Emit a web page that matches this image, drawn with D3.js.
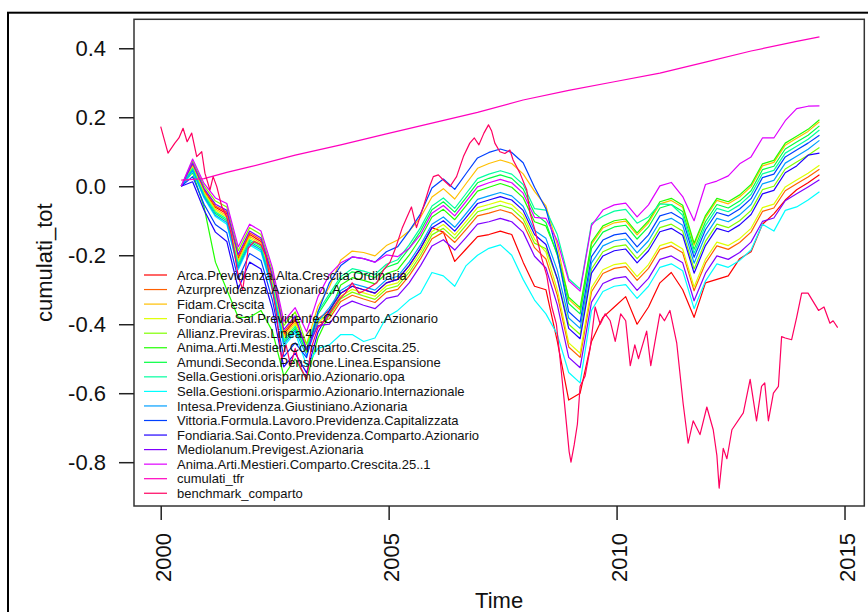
<!DOCTYPE html>
<html>
<head>
<meta charset="utf-8">
<script src="https://cdn.jsdelivr.net/npm/d3@7"></script>
<style>
  body { margin: 0; background: #fff; }
  text { font-family: "Liberation Sans", Arial, sans-serif; fill: #111; }
</style>
</head>
<body>
<div id="chart"></div>
<script>
// ------------ DATA ------------
// funds are quarterly, starting mid 2000
var fundStart = 2000.45;
var fundStep = 0.25;

var fundNames = [
  "Arca.Previdenza.Alta.Crescita.Ordinaria",
  "Azurprevidenza.Azionario..A",
  "Fidam.Crescita",
  "Fondiaria.Sai.Previdente.Comparto.Azionario",
  "Allianz.Previras.Linea.4",
  "Anima.Arti.Mestieri.Comparto.Crescita.25.",
  "Amundi.Seconda.Pensione.Linea.Espansione",
  "Sella.Gestioni.orisparmio.Azionario.opa",
  "Sella.Gestioni.orisparmio.Azionario.Internazionale",
  "Intesa.Previdenza.Giustiniano.Azionaria",
  "Vittoria.Formula.Lavoro.Previdenza.Capitalizzata",
  "Fondiaria.Sai.Conto.Previdenza.Comparto.Azionario",
  "Mediolanum.Previgest.Azionaria",
  "Anima.Arti.Mestieri.Comparto.Crescita.25..1"
];

var arca = [0, 0.061, -0.013, -0.061, -0.080, -0.209, -0.140, -0.160, -0.269, -0.428,
  -0.388, -0.471, -0.385, -0.360, -0.310, -0.290, -0.300, -0.310, -0.280, -0.270,
  -0.230, -0.180, -0.120, -0.133, -0.218, -0.182, -0.146, -0.140, -0.130, -0.140,
  -0.220, -0.290, -0.300, -0.450, -0.620, -0.600, -0.450, -0.380, -0.350, -0.320,
  -0.400, -0.350, -0.280, -0.250, -0.300, -0.380, -0.280, -0.270, -0.260, -0.210,
  -0.190, -0.110, -0.080, -0.040, -0.010, 0.010, 0.033];
var azur = [0, 0.064, -0.010, -0.057, -0.075, -0.204, -0.135, -0.155, -0.264, -0.422,
  -0.382, -0.474, -0.397, -0.384, -0.334, -0.316, -0.327, -0.337, -0.307, -0.299,
  -0.260, -0.210, -0.152, -0.133, -0.163, -0.125, -0.086, -0.078, -0.068, -0.078,
  -0.108, -0.178, -0.211, -0.316, -0.466, -0.496, -0.306, -0.253, -0.238, -0.233,
  -0.273, -0.238, -0.183, -0.173, -0.193, -0.303, -0.223, -0.173, -0.183, -0.163,
  -0.133, -0.073, -0.063, -0.013, 0.007, 0.027, 0.049];
var fidam = [0, 0.058, -0.017, -0.066, -0.085, -0.215, -0.145, -0.165, -0.275, -0.434,
  -0.394, -0.457, -0.348, -0.292, -0.214, -0.188, -0.192, -0.202, -0.172, -0.156,
  -0.130, -0.090, -0.031, -0.007, -0.037, 0.008, 0.052, 0.066, 0.076, 0.066,
  0.036, -0.015, -0.057, -0.170, -0.328, -0.358, -0.168, -0.121, -0.106, -0.101,
  -0.141, -0.106, -0.051, -0.041, -0.061, -0.171, -0.091, -0.041, -0.051, -0.031,
  -0.001, 0.059, 0.069, 0.119, 0.139, 0.159, 0.187];
var fondSaiPrev = [0, 0.055, -0.020, -0.070, -0.090, -0.220, -0.150, -0.170, -0.280, -0.440,
  -0.400, -0.482, -0.395, -0.368, -0.318, -0.299, -0.309, -0.319, -0.289, -0.280,
  -0.240, -0.190, -0.131, -0.111, -0.141, -0.102, -0.062, -0.053, -0.043, -0.053,
  -0.083, -0.153, -0.191, -0.300, -0.454, -0.484, -0.294, -0.242, -0.227, -0.222,
  -0.262, -0.227, -0.172, -0.162, -0.182, -0.292, -0.212, -0.162, -0.172, -0.152,
  -0.122, -0.062, -0.052, -0.002, 0.018, 0.038, 0.061];
var allianz = [0, 0.073, 0.001, -0.043, -0.060, -0.187, -0.120, -0.140, -0.247, -0.404,
  -0.364, -0.458, -0.385, -0.376, -0.326, -0.307, -0.318, -0.328, -0.298, -0.289,
  -0.250, -0.200, -0.141, -0.122, -0.152, -0.113, -0.074, -0.065, -0.055, -0.065,
  -0.095, -0.165, -0.181, -0.268, -0.400, -0.430, -0.240, -0.190, -0.175, -0.170,
  -0.210, -0.175, -0.120, -0.110, -0.130, -0.240, -0.160, -0.110, -0.120, -0.100,
  -0.070, -0.010, 0.000, 0.050, 0.070, 0.090, 0.112];
var animaCresc = [0, 0.040, -0.060, -0.220, -0.300, -0.380, -0.380, -0.360, -0.420, -0.550,
  -0.500, -0.560, -0.440, -0.370, -0.286, -0.265, -0.273, -0.283, -0.253, -0.242,
  -0.200, -0.150, -0.089, -0.067, -0.097, -0.056, -0.014, -0.003, 0.008, -0.003,
  -0.033, -0.103, -0.115, -0.196, -0.322, -0.352, -0.162, -0.115, -0.100, -0.095,
  -0.135, -0.100, -0.045, -0.035, -0.055, -0.165, -0.085, -0.035, -0.045, -0.025,
  0.005, 0.065, 0.075, 0.125, 0.145, 0.165, 0.193];
var amundi = [0, 0.049, -0.027, -0.079, -0.100, -0.231, -0.160, -0.180, -0.291, -0.452,
  -0.412, -0.478, -0.371, -0.320, -0.270, -0.248, -0.255, -0.265, -0.235, -0.223,
  -0.180, -0.130, -0.068, -0.045, -0.075, -0.033, 0.010, 0.023, 0.033, 0.023,
  -0.008, -0.078, -0.105, -0.200, -0.340, -0.370, -0.180, -0.133, -0.118, -0.113,
  -0.153, -0.118, -0.063, -0.053, -0.073, -0.183, -0.103, -0.053, -0.063, -0.043,
  -0.013, 0.048, 0.058, 0.108, 0.128, 0.148, 0.175];
var sellaOpa = [0, 0.052, -0.024, -0.075, -0.095, -0.226, -0.155, -0.175, -0.286, -0.446,
  -0.406, -0.471, -0.364, -0.312, -0.262, -0.239, -0.246, -0.256, -0.226, -0.213,
  -0.170, -0.120, -0.057, -0.034, -0.064, -0.021, 0.022, 0.035, 0.045, 0.035,
  0.005, -0.065, -0.069, -0.140, -0.268, -0.298, -0.108, -0.087, -0.072, -0.067,
  -0.107, -0.089, -0.051, -0.053, -0.084, -0.194, -0.114, -0.064, -0.074, -0.054,
  -0.024, 0.036, 0.046, 0.096, 0.116, 0.136, 0.163];
var sellaInt = [0, 0.043, -0.034, -0.088, -0.110, -0.242, -0.170, -0.190, -0.302, -0.464,
  -0.424, -0.520, -0.470, -0.460, -0.430, -0.430, -0.450, -0.440, -0.380, -0.360,
  -0.330, -0.310, -0.250, -0.260, -0.290, -0.230, -0.200, -0.180, -0.170, -0.200,
  -0.270, -0.330, -0.370, -0.430, -0.540, -0.570, -0.360, -0.305, -0.290, -0.285,
  -0.325, -0.290, -0.235, -0.225, -0.245, -0.355, -0.275, -0.225, -0.235, -0.215,
  -0.185, -0.110, -0.130, -0.070, -0.060, -0.040, -0.016];
var intesa = [0, 0.046, -0.031, -0.084, -0.105, -0.237, -0.165, -0.185, -0.297, -0.458,
  -0.418, -0.491, -0.392, -0.352, -0.302, -0.282, -0.291, -0.301, -0.271, -0.261,
  -0.220, -0.170, -0.110, -0.089, -0.119, -0.079, -0.038, -0.028, -0.018, -0.028,
  -0.058, -0.128, -0.151, -0.244, -0.382, -0.412, -0.222, -0.173, -0.158, -0.153,
  -0.193, -0.158, -0.103, -0.093, -0.113, -0.223, -0.143, -0.093, -0.103, -0.083,
  -0.053, 0.007, 0.017, 0.067, 0.087, 0.107, 0.133];
var vittoria = [0, 0.028, -0.052, -0.111, -0.135, -0.270, -0.195, -0.215, -0.330, -0.494,
  -0.454, -0.497, -0.364, -0.280, -0.230, -0.205, -0.210, -0.220, -0.190, -0.175,
  -0.130, -0.080, -0.005, 0.021, -0.009, 0.037, 0.082, 0.098, 0.108, 0.098,
  0.068, -0.003, -0.065, -0.192, -0.364, -0.394, -0.204, -0.156, -0.141, -0.136,
  -0.176, -0.141, -0.086, -0.076, -0.096, -0.206, -0.126, -0.076, -0.086, -0.066,
  -0.036, 0.025, 0.035, 0.085, 0.105, 0.125, 0.148];
var fondConto = [0, 0.013, -0.069, -0.133, -0.160, -0.297, -0.220, -0.240, -0.357, -0.524,
  -0.484, -0.541, -0.423, -0.360, -0.310, -0.290, -0.300, -0.310, -0.280, -0.270,
  -0.230, -0.180, -0.120, -0.100, -0.130, -0.090, -0.050, -0.040, -0.030, -0.040,
  -0.070, -0.140, -0.169, -0.268, -0.412, -0.442, -0.252, -0.202, -0.187, -0.182,
  -0.222, -0.187, -0.132, -0.122, -0.142, -0.252, -0.172, -0.122, -0.132, -0.112,
  -0.082, -0.022, -0.012, 0.039, 0.059, 0.090, 0.096];
var mediolanum = [0, 0.067, -0.006, -0.052, -0.070, -0.198, -0.130, -0.150, -0.258, -0.416,
  -0.376, -0.474, -0.404, -0.400, -0.350, -0.333, -0.345, -0.355, -0.325, -0.318,
  -0.280, -0.230, -0.173, -0.155, -0.185, -0.148, -0.110, -0.103, -0.093, -0.103,
  -0.133, -0.203, -0.237, -0.344, -0.496, -0.526, -0.336, -0.282, -0.267, -0.262,
  -0.302, -0.267, -0.212, -0.202, -0.222, -0.332, -0.252, -0.202, -0.212, -0.192,
  -0.162, -0.102, -0.092, -0.042, -0.022, -0.002, 0.019];
var animaCresc1 = [0, 0.079, 0.008, -0.034, -0.050, -0.176, -0.110, -0.130, -0.236, -0.392,
  -0.352, -0.422, -0.320, -0.256, -0.222, -0.205, -0.210, -0.220, -0.199, -0.204,
  -0.180, -0.140, -0.078, -0.056, -0.086, -0.044, -0.002, 0.010, 0.020, 0.010,
  -0.020, -0.090, -0.093, -0.158, -0.274, -0.304, -0.114, -0.069, -0.054, -0.049,
  -0.089, -0.054, 0.001, 0.011, -0.030, -0.100, 0.005, 0.015, 0.030, 0.065,
  0.085, 0.140, 0.140, 0.190, 0.225, 0.232, 0.233];

// cumulati_tfr
var tfrTime = [2000.45, 2000.95, 2001.45, 2001.95, 2002.95, 2003.95, 2004.95, 2005.95,
  2006.95, 2007.95, 2008.95, 2009.95, 2010.95, 2011.95, 2012.95, 2013.95, 2014.45];
var tfrValue = [0.018, 0.022, 0.040, 0.056, 0.090, 0.120, 0.152, 0.183,
  0.214, 0.250, 0.278, 0.303, 0.328, 0.360, 0.392, 0.420, 0.433];

// benchmark_comparto
var benchTime = [2000.00, 2000.16, 2000.31, 2000.40, 2000.49, 2000.58, 2000.68, 2000.79, 2000.90, 2000.97,
  2001.08, 2001.15, 2001.23, 2001.34, 2001.45, 2001.55, 2001.70, 2001.80, 2001.92, 2002.05,
  2002.20, 2002.30, 2002.45, 2002.55, 2002.65, 2002.75, 2002.85, 2002.95, 2003.05, 2003.20,
  2003.30, 2003.45, 2003.60, 2003.75, 2003.90, 2004.05, 2004.20, 2004.35, 2004.50, 2004.74,
  2004.90, 2005.03, 2005.15, 2005.30, 2005.40, 2005.50, 2005.61, 2005.76, 2005.90, 2005.98,
  2006.09, 2006.20, 2006.35, 2006.49, 2006.64, 2006.78, 2006.88, 2006.98, 2007.09, 2007.19,
  2007.26, 2007.33, 2007.44, 2007.55, 2007.66, 2007.73, 2007.88, 2008.03, 2008.10, 2008.21,
  2008.36, 2008.47, 2008.58, 2008.68, 2008.76, 2008.85, 2008.96, 2009.00, 2009.07, 2009.14,
  2009.20, 2009.31, 2009.42, 2009.53, 2009.64, 2009.75, 2009.86, 2009.97, 2010.09, 2010.20,
  2010.30, 2010.40, 2010.48, 2010.66, 2010.75, 2010.95, 2011.05, 2011.17, 2011.32, 2011.46,
  2011.57, 2011.68, 2011.83, 2011.98, 2012.12, 2012.20, 2012.25, 2012.34, 2012.42, 2012.53,
  2012.78, 2012.93, 2013.07, 2013.18, 2013.25, 2013.33, 2013.44, 2013.55, 2013.62, 2013.70,
  2013.84, 2013.95, 2014.06, 2014.20, 2014.43, 2014.55, 2014.68, 2014.75, 2014.85];
var benchValue = [0.173, 0.096, 0.125, 0.140, 0.168, 0.129, 0.154, 0.086, 0.100, 0.038,
  -0.011, 0.028, -0.001, -0.059, -0.090, -0.140, -0.260, -0.300, -0.180, -0.160,
  -0.170, -0.200, -0.300, -0.380, -0.500, -0.460, -0.520, -0.470, -0.520, -0.560,
  -0.470, -0.410, -0.390, -0.360, -0.330, -0.310, -0.280, -0.310, -0.300, -0.280,
  -0.240, -0.220, -0.180, -0.120, -0.090, -0.060, -0.120, -0.060, 0.000, 0.028,
  0.033, 0.018, 0.000, 0.028, 0.086, 0.125, 0.140, 0.120, 0.154, 0.178,
  0.160, 0.125, 0.100, 0.095, 0.105, 0.076, 0.038, -0.011, -0.078, -0.127,
  -0.210, -0.260, -0.350, -0.400, -0.500, -0.620, -0.770, -0.800, -0.750, -0.690,
  -0.580, -0.550, -0.470, -0.350, -0.400, -0.370, -0.390, -0.450, -0.370, -0.390,
  -0.520, -0.460, -0.500, -0.420, -0.520, -0.370, -0.390, -0.360, -0.455, -0.630,
  -0.745, -0.680, -0.720, -0.640, -0.706, -0.780, -0.875, -0.760, -0.790, -0.706,
  -0.657, -0.560, -0.680, -0.580, -0.570, -0.680, -0.600, -0.580, -0.436, -0.440,
  -0.445, -0.380, -0.310, -0.310, -0.360, -0.350, -0.397, -0.390, -0.410];

var yTicks = [-0.8, -0.6, -0.4, -0.2, 0.0, 0.2, 0.4];
var xTicks = [2000, 2005, 2010, 2015];

// R rainbow(16)
var colors = ["#FF0000", "#FF6000", "#FFBF00", "#DFFF00", "#80FF00", "#20FF00",
  "#00FF40", "#00FF9F", "#00FFFF", "#009FFF", "#0040FF", "#2000FF",
  "#8000FF", "#DF00FF", "#FF00BF", "#FF0060"];

var fundValues = [arca, azur, fidam, fondSaiPrev, allianz, animaCresc, amundi, sellaOpa,
  sellaInt, intesa, vittoria, fondConto, mediolanum, animaCresc1];

// build one list of series: funds, then tfr, then benchmark
var series = fundValues.map(function(vals, k) {
  return {
    name: fundNames[k],
    points: vals.map(function(v, i) { return [fundStart + i * fundStep, v]; })
  };
});
series.push({ name: "cumulati_tfr", points: tfrTime.map(function(t, i) { return [t, tfrValue[i]]; }) });
series.push({ name: "benchmark_comparto", points: benchTime.map(function(t, i) { return [t, benchValue[i]]; }) });

// ------------ CHART FORMATTING ------------
var svgWidth = 868;
var svgHeight = 612;
var plot = { left: 134, top: 19.3, right: 864.3, bottom: 506 };

var svg = d3.select("#chart")
  .append("svg")
  .attr("width", svgWidth)
  .attr("height", svgHeight);

// outer frame (right and bottom edges fall outside the picture)
svg.append("rect")
  .attr("x", 8).attr("y", 12.7)
  .attr("width", 880).attr("height", 700)
  .attr("fill", "none")
  .attr("stroke", "#000")
  .attr("stroke-width", 2);

var x = d3.scaleLinear()
  .domain([1999.414, 2015.434])
  .range([plot.left, plot.right]);
var y = d3.scaleLinear()
  .domain([-0.927, 0.484])
  .range([plot.bottom, plot.top]);

// ------------ LINES ------------
var line = d3.line()
  .x(function(d) { return x(d[0]); })
  .y(function(d) { return y(d[1]); });

svg.append("g")
  .selectAll("path")
  .data(series)
  .enter()
  .append("path")
    .attr("d", function(d) { return line(d.points); })
    .attr("fill", "none")
    .attr("stroke", function(d, i) { return colors[i]; })
    .attr("stroke-width", 1.2)
    .attr("stroke-linejoin", "round");

// plot box
svg.append("rect")
  .attr("x", plot.left).attr("y", plot.top)
  .attr("width", plot.right - plot.left)
  .attr("height", plot.bottom - plot.top)
  .attr("fill", "none")
  .attr("stroke", "#333")
  .attr("stroke-width", 1.5);

// ------------ AXES ------------
var fmt = d3.formatLocale({ decimal: ".", thousands: ",", grouping: [3], currency: ["", ""], minus: "-" }).format(".1f");

var leftAxis = d3.axisLeft(y).tickValues(yTicks).tickFormat(fmt).tickSize(15).tickPadding(13);
var gy = svg.append("g")
  .attr("transform", "translate(" + plot.left + ",0)")
  .call(leftAxis);
gy.select(".domain").remove();
gy.selectAll(".tick line").attr("stroke", "#222").attr("stroke-width", 1.5);
gy.selectAll(".tick text")
  .attr("fill", "#111")
  .style("font-size", "22px")
  .style("font-family", "'Liberation Sans', Arial, sans-serif");

var bottomAxis = d3.axisBottom(x).tickValues(xTicks).tickFormat(d3.format("d")).tickSize(14);
var gx = svg.append("g")
  .attr("transform", "translate(0," + plot.bottom + ")")
  .call(bottomAxis);
gx.select(".domain").remove();
gx.selectAll(".tick line").attr("stroke", "#222").attr("stroke-width", 1.5);
gx.selectAll(".tick text")
  .attr("x", 0).attr("y", 0)
  .attr("dy", "0.35em")
  .attr("transform", "translate(2.5,27) rotate(-90)")
  .attr("fill", "#111")
  .style("text-anchor", "end")
  .style("font-size", "22px")
  .style("font-family", "'Liberation Sans', Arial, sans-serif");

// ------------ LABELS ------------
svg.append("text")
  .attr("x", (plot.left + plot.right) / 2)
  .attr("y", 608)
  .attr("text-anchor", "middle")
  .style("font-size", "22px")
  .text("Time");

svg.append("text")
  .attr("transform", "translate(52," + ((plot.top + plot.bottom) / 2) + ") rotate(-90)")
  .attr("text-anchor", "middle")
  .style("font-size", "22px")
  .text("cumulati_tot");

// ------------ LEGEND ------------
var legend = svg.append("g")
  .attr("transform", "translate(144,275)");
var rows = legend.selectAll("g")
  .data(series)
  .enter()
  .append("g")
    .attr("transform", function(d, i) { return "translate(0," + (i * 14.55) + ")"; });
rows.append("line")
  .attr("x1", 0).attr("x2", 23)
  .attr("stroke", function(d, i) { return colors[i]; })
  .attr("stroke-width", 1.2);
rows.append("text")
  .attr("x", 33)
  .attr("dy", "0.35em")
  .style("font-size", "13px")
  .text(function(d) { return d.name; });
</script>
</body>
</html>
